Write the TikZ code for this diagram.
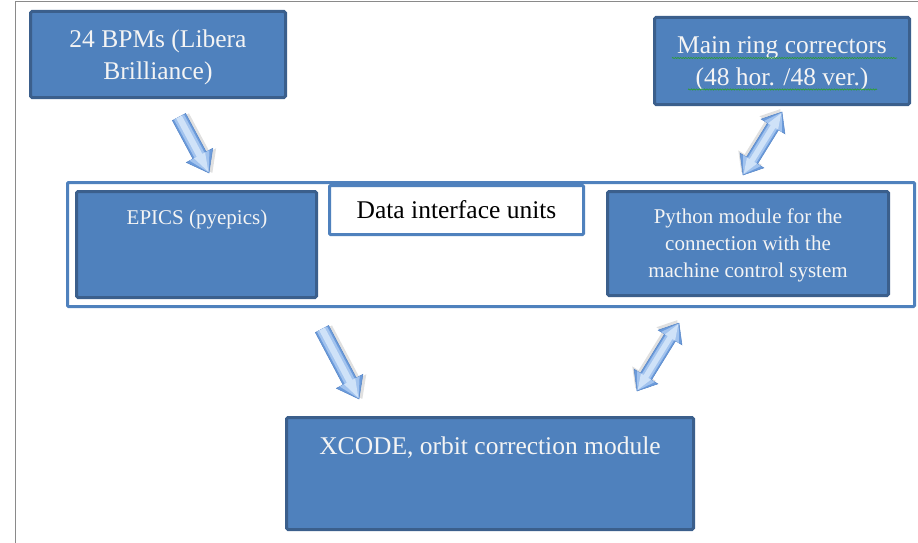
\documentclass[tikz,border=0pt]{standalone}
\usepackage{fontspec}
\setmainfont{Liberation Serif}
\usetikzlibrary{calc,decorations.pathmorphing}
\definecolor{bfill}{HTML}{4F81BD}
\definecolor{bdraw}{HTML}{3B5F8C}
\definecolor{alight}{HTML}{CFE2F8}
\definecolor{amid}{HTML}{A2C3EE}
\definecolor{adark}{HTML}{6C9CDC}
\definecolor{aedge}{HTML}{5685C6}
\definecolor{framegray}{HTML}{8A8A8A}
\definecolor{ftext}{HTML}{F4F4F4}
\definecolor{spell}{HTML}{2E9C3A}

% measure direction and length between two named coordinates
\newcommand\measurearrow[2]{%
  \path let \p1=(#1), \p2=(#2),
    \n1={atan2(\y2-\y1,\x2-\x1)}, \n2={veclen(\x2-\x1,\y2-\y1)} in
    \pgfextra{\xdef\arrang{\n1}\xdef\arrlen{\n2}};
}
% one layer of a single-headed block arrow: #1 width factor, #2 options
\newcommand\salayer[2]{%
  \path[#2] (0,-7.5*#1) -- (\arrlen-20,-7.5*#1) -- (\arrlen-20,-15*#1)
    -- (\arrlen-2.5+2.5*#1,0) -- (\arrlen-20,15*#1) -- (\arrlen-20,7.5*#1) -- (0,7.5*#1) -- cycle;
}
% one layer of a double-headed block arrow
\newcommand\dalayer[2]{%
  \path[#2] (2.5-2.5*#1,0) -- (17,14*#1) -- (17,6.5*#1) -- (\arrlen-17,6.5*#1) -- (\arrlen-17,14*#1)
    -- (\arrlen-2.5+2.5*#1,0) -- (\arrlen-17,-14*#1) -- (\arrlen-17,-6.5*#1) -- (17,-6.5*#1) -- (17,-14*#1) -- cycle;
}
\newcommand\singlearrow[2]{%
  \measurearrow{#1}{#2}%
  \begin{scope}[shift={(#1)}, rotate=\arrang]
    \begin{scope}[shift={(1.5,-3)}]\salayer{1}{fill=black,opacity=0.12}\end{scope}
    \salayer{1}{fill=adark, draw=aedge, line width=0.5pt}
    \salayer{0.75}{fill=amid}
    \salayer{0.42}{fill=alight}
  \end{scope}
}
\newcommand\doublearrow[2]{%
  \measurearrow{#1}{#2}%
  \begin{scope}[shift={(#1)}, rotate=\arrang]
    \begin{scope}[shift={(1.5,-3)}]\dalayer{1}{fill=black,opacity=0.12}\end{scope}
    \dalayer{1}{fill=adark, draw=aedge, line width=0.5pt}
    \dalayer{0.75}{fill=amid}
    \dalayer{0.42}{fill=alight}
  \end{scope}
}

\begin{document}
\begin{tikzpicture}[x=1pt,y=-1pt,
  bluebox/.style={draw=bdraw, fill=bfill, line width=3pt, rounded corners=1.5pt, inner sep=0pt},
  container/.style={draw=bfill, fill=white, line width=3pt, rounded corners=1pt, inner sep=0pt},
  wtext/.style={text=ftext, align=center, inner sep=0pt},
  btext/.style={text=black, align=center, inner sep=0pt},
  bigfont/.style={font=\fontsize{25.5}{32}\selectfont},
  smallfont/.style={font=\fontsize{21}{27}\selectfont},
  spellmark/.style={draw=spell, line width=0.7pt, decorate, decoration={snake, amplitude=0.6pt, segment length=2.6pt}}
]
\useasboundingbox (0,0) rectangle (918,543);

% page frame
\draw[framegray, line width=1.3pt] (15.5,543) -- (15.5,1.5) -- (918,1.5);

% top boxes
\node[bluebox, minimum width=255pt, minimum height=86pt] (bpm) at (158,54.5) {};
\node[wtext, bigfont] (bpmtext) at (158,57) {24 BPMs (Libera\\Brilliance)};

\node[bluebox, minimum width=255pt, minimum height=87pt] (mrc) at (782,61) {};
\node[wtext, bigfont] (mrctext) at (782,64) {Main ring correctors\\(48 hor. /48 ver.)};
\draw[spellmark] (672,58) -- (897,58);
\draw[spellmark] (688,89.5) -- (877,89.5);

% container of data interface units
\node[container, minimum width=847pt, minimum height=124pt] (dif) at (491,244.5) {};
\node[container, minimum width=254pt, minimum height=49pt] (diflabel) at (456.5,210) {};
\node[btext, bigfont, anchor=base] (diftext) at (456.5,218.5) {Data interface units};

\node[bluebox, minimum width=240pt, minimum height=106pt] (epics) at (196.5,244.5) {};
\node[wtext, smallfont, anchor=base] (epicstext) at (197,224) {EPICS (pyepics)};

\node[bluebox, minimum width=281pt, minimum height=104pt] (py) at (748,243.5) {};
\node[wtext, smallfont] (pytext) at (748,245) {Python module for the\\connection with the\\machine control system};

% bottom box
\node[bluebox, minimum width=407pt, minimum height=112pt] (xcode) at (490,473.5) {};
\node[wtext, bigfont, anchor=base] (xcodetext) at (490,454) {XCODE, orbit correction module};

% arrow end points
\coordinate (a1s) at (179,117);
\coordinate (a1e) at (209,173);
\coordinate (a2s) at (743,175);
\coordinate (a2e) at (782,112);
\coordinate (a3s) at (322,329);
\coordinate (a3e) at (359,399);
\coordinate (a4s) at (637,391);
\coordinate (a4e) at (679,323);

\singlearrow{a1s}{a1e}
\doublearrow{a2s}{a2e}
\singlearrow{a3s}{a3e}
\doublearrow{a4s}{a4e}
\end{tikzpicture}
\end{document}
